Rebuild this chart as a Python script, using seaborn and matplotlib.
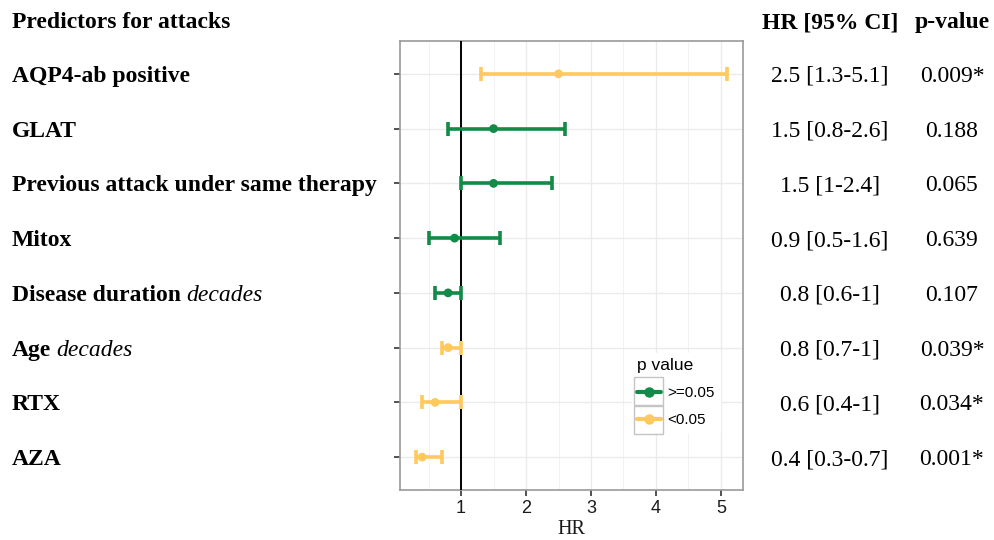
import numpy as np
import pandas as pd
import matplotlib
matplotlib.use("Agg")
import matplotlib.pyplot as plt
import matplotlib.transforms as mtransforms
from matplotlib.lines import Line2D
from matplotlib.patches import Rectangle
import seaborn as sns

# ---------------- data ----------------
predictors = ["AQP4-ab positive", "GLAT", "Previous attack under same therapy", "Mitox",
              "Disease duration", "Age", "RTX", "AZA"]
italic_suffix = ["", "", "", "", "decades", "decades", "", ""]
hr = [2.5, 1.5, 1.5, 0.9, 0.8, 0.8, 0.6, 0.4]
ci_low = [1.3, 0.8, 1.0, 0.5, 0.6, 0.7, 0.4, 0.3]
ci_high = [5.1, 2.6, 2.4, 1.6, 1.0, 1.0, 1.0, 0.7]
ci_text = ["2.5 [1.3-5.1]", "1.5 [0.8-2.6]", "1.5 [1-2.4]", "0.9 [0.5-1.6]",
           "0.8 [0.6-1]", "0.8 [0.7-1]", "0.6 [0.4-1]", "0.4 [0.3-0.7]"]
p_text = ["0.009*", "0.188", "0.065", "0.639", "0.107", "0.039*", "0.034*", "0.001*"]
p_group = ["<0.05", ">=0.05", ">=0.05", ">=0.05", ">=0.05", "<0.05", "<0.05", "<0.05"]
group_order = [">=0.05", "<0.05"]
x_ticks = [1, 2, 3, 4, 5]

df = pd.DataFrame({"predictor": predictors, "hr": hr, "lo": ci_low, "hi": ci_high,
                   "group": p_group})
df["row"] = np.arange(1, len(df) + 1)

palette = {">=0.05": "#138A47", "<0.05": "#FFC95C"}

# ---------------- figure ----------------
sns.set_theme(style="whitegrid")
plt.rcParams["font.family"] = ["Liberation Sans", "DejaVu Sans"]
plt.rcParams["text.color"] = "black"
SERIF = ["Liberation Serif", "DejaVu Serif"]

W, H = 995, 540
fig = plt.figure(figsize=(W / 100, H / 100), dpi=100)
ax = fig.add_axes([400 / W, 1 - 490 / H, 343 / W, 449 / H])

# error bars
for g in group_order:
    sub = df[df["group"] == g]
    ax.errorbar(sub["hr"], sub["row"], xerr=[sub["hr"] - sub["lo"], sub["hi"] - sub["hr"]],
                fmt="none", ecolor=palette[g], elinewidth=2.6, capsize=4.8, capthick=2.6,
                zorder=4)
sns.scatterplot(data=df, x="hr", y="row", hue="group", palette=palette, hue_order=group_order,
                s=40, edgecolor="none", legend=False, ax=ax, zorder=5)
ax.axvline(1, color="black", lw=1.4, zorder=3)

ax.set_xlim(0.06, 5.34)
ax.set_ylim(len(df) + 0.6, 0.4)
ax.set_xticks(x_ticks)
ax.set_xticklabels([str(t) for t in x_ticks], fontsize=13, color="#1a1a1a")
ax.set_xticks([t + 0.5 for t in [0] + x_ticks[:-1]], minor=True)
ax.set_yticks(df["row"])
ax.set_yticklabels([])
ax.set_xlabel("HR", fontsize=14.5, family=SERIF, color="#1a1a1a", labelpad=2)
ax.set_ylabel("")
ax.set_facecolor("white")
ax.grid(which="major", color="#ebebeb", lw=1.0)
ax.grid(which="minor", axis="x", color="#f2f2f2", lw=0.7)
ax.set_axisbelow(True)
ax.tick_params(axis="both", which="major", length=4, width=1.2, color="#333333",
               bottom=True, left=True, pad=3.5)
ax.tick_params(axis="x", which="minor", length=0)
for s in ax.spines.values():
    s.set_color("#9a9a9a")
    s.set_linewidth(1.2)

# legend
handles = [Line2D([0], [0], color=palette[g], lw=3, marker="o", ms=6.5) for g in group_order]
leg = ax.legend(handles, group_order, title="p value", loc="upper left",
                bbox_to_anchor=(624 / W, 1 - 345 / H), bbox_transform=fig.transFigure,
                fontsize=11, title_fontsize=12.5, frameon=True, facecolor="white",
                edgecolor="white", framealpha=1, handlelength=1.6, handletextpad=0.4,
                labelspacing=0.85, borderpad=0.35, fancybox=False)
leg._legend_box.align = "left"
for i in range(2):
    fig.add_artist(Rectangle((634 / W, 1 - (405 + 29 * i) / H), 29 / W, 28 / H,
                             transform=fig.transFigure, fill=False, edgecolor="#c4c4c4",
                             lw=1.0, zorder=10))

# table texts
trans = mtransforms.blended_transform_factory(fig.transFigure, ax.transData)
fs = 17
VA = "center_baseline"
fig.text(12 / W, 1 - 20 / H, "Predictors for attacks", fontsize=fs, fontweight="bold",
         family=SERIF, va=VA, ha="left")
fig.text(830 / W, 1 - 20 / H, "HR [95% CI]", fontsize=fs, fontweight="bold",
         family=SERIF, va=VA, ha="center")
fig.text(952 / W, 1 - 20 / H, "p-value", fontsize=fs, fontweight="bold",
         family=SERIF, va=VA, ha="center")

renderer = fig.canvas.get_renderer()
for r, name, suf, ci, p in zip(df["row"], predictors, italic_suffix, ci_text, p_text):
    t = fig.text(12 / W, r, name, fontsize=fs, fontweight="bold", family=SERIF,
                 va=VA, ha="left", transform=trans)
    if suf:
        bb = t.get_window_extent(renderer=renderer)
        fig.text((bb.x1 + 5) / W, r, suf, fontsize=fs, fontstyle="italic", family=SERIF,
                 va=VA, ha="left", transform=trans)
    fig.text(830 / W, r, ci, fontsize=fs, family=SERIF, va=VA, ha="center",
             transform=trans)
    fig.text(952 / W, r, p, fontsize=fs, family=SERIF, va=VA, ha="center",
             transform=trans)

fig.savefig("out.png", dpi=100, facecolor="white")
